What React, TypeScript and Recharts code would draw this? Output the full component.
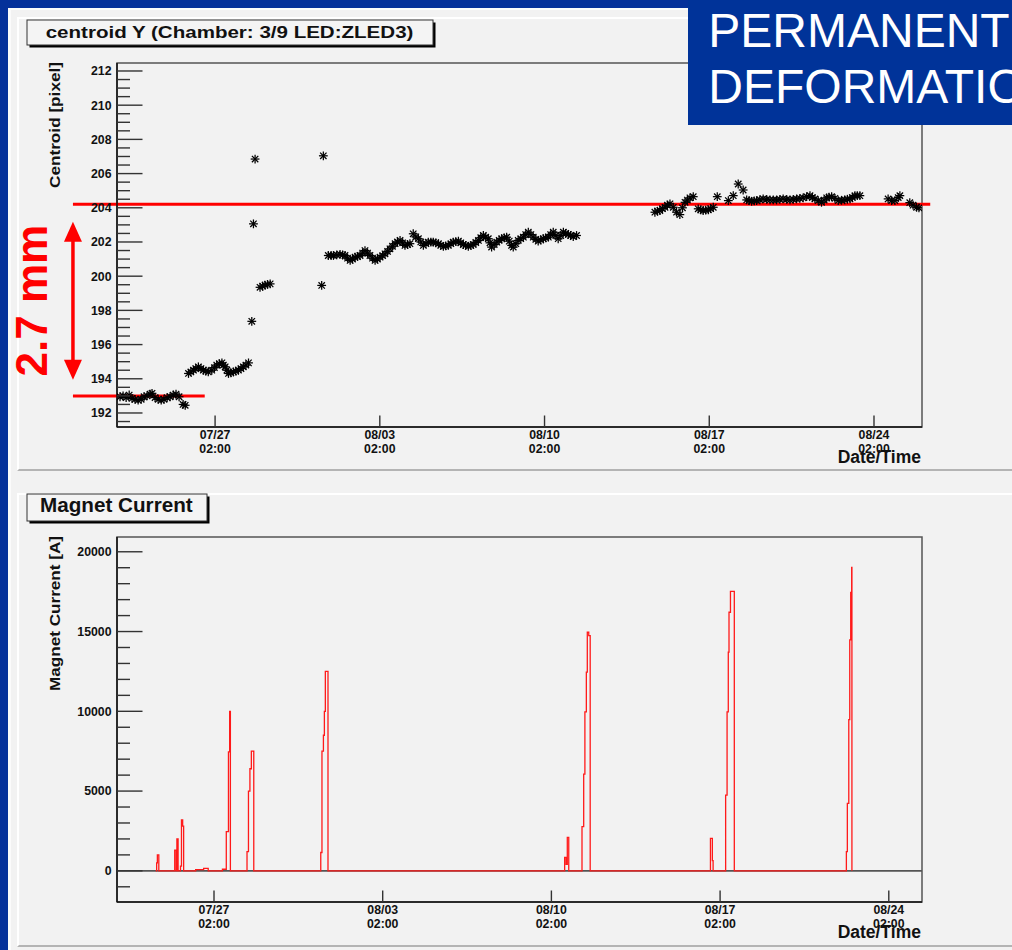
import React from 'react';
import {
  ScatterChart,
  Scatter,
  LineChart,
  Line,
  XAxis,
  YAxis,
  ReferenceLine,
  ReferenceArea,
} from 'recharts';

const FONT = '"Liberation Sans", Arial, Helvetica, sans-serif';
const INK = '#111';
const RED = '#ff0000';

// time axis: days since 07/27 02:00
const dateTicks = [0, 7, 14, 21, 28];
const dateTickDay = ['07/27', '08/03', '08/10', '08/17', '08/24'];
const dateTickHour = ['02:00', '02:00', '02:00', '02:00', '02:00'];

const centroidTitle = 'centroid Y (Chamber: 3/9 LED:ZLED3)';
const centroidAxisTitle = 'Centroid [pixel]';
const currentTitle = 'Magnet Current';
const currentAxisTitle = 'Magnet Current [A]';
const timeAxisTitle = 'Date/Time';
const bannerLines = ['PERMANENT', 'DEFORMATION'];
const shiftLabel = '2.7 mm';

const centroidMajor = [192, 194, 196, 198, 200, 202, 204, 206, 208, 210, 212];
const currentMajor = [0, 5000, 10000, 15000, 20000];

// centroid Y measurements (days since 07/27 02:00, pixel)
const centroidT = [
  -4.04, -3.91, -3.78, -3.65, -3.53, -3.4, -3.27, -3.14, -3.02, -2.89, -2.76, -2.68, -2.55, -2.42, -2.29, -2.17,
  -2.04, -1.91, -1.78, -1.66, -1.53, -1.36, -1.27,
  -1.13, -1.03, -0.92, -0.82, -0.71, -0.6, -0.5, -0.39, -0.29, -0.14, -0.03, 0.07, 0.18, 0.29, 0.35, 0.43, 0.5,
  0.57, 0.67, 0.78, 0.88, 0.99, 1.1, 1.2, 1.31, 1.42,
  1.56, 1.63, 1.7, 1.91, 2.02, 2.12, 2.23, 2.34, 4.53, 4.6,
  4.81, 4.93, 5.03, 5.17, 5.31, 5.42, 5.52, 5.63, 5.74, 5.84,
  5.95, 6.05, 6.16, 6.27, 6.37, 6.48, 6.58, 6.69, 6.8, 6.9,
  7.01, 7.12, 7.22, 7.33, 7.43, 7.54, 7.65, 7.75, 7.86, 7.97,
  8.07, 8.18, 8.28, 8.42, 8.53, 8.64, 8.74, 8.85, 8.96, 9.06,
  9.17, 9.27, 9.38, 9.49, 9.59, 9.7, 9.8, 9.91, 10.02, 10.12,
  10.23, 10.34, 10.44, 10.55, 10.65, 10.76, 10.87, 10.97, 11.08, 11.19,
  11.29, 11.4, 11.5, 11.61, 11.68, 11.75, 11.86, 11.97, 12.07, 12.18,
  12.29, 12.39, 12.5, 12.6, 12.67, 12.78, 12.88, 12.99, 13.1, 13.2,
  13.31, 13.42, 13.52, 13.63, 13.73, 13.84, 13.95, 14.05, 14.16, 14.26,
  14.37, 14.48, 14.58, 14.69, 14.8, 14.9, 15.01, 15.11, 15.22, 15.36,
  18.69, 18.8, 18.9, 19.01, 19.12, 19.22, 19.33, 19.47, 19.61, 19.75,
  19.86, 19.97, 20.07, 20.18, 20.32, 20.53, 20.64, 20.74, 20.85, 20.96,
  21.06, 21.17, 21.34, 21.81, 22.02, 22.23, 22.44, 22.59, 22.69, 22.8,
  22.91, 23.01, 23.15, 23.29, 23.44, 23.58, 23.72, 23.86, 24.0, 24.14,
  24.29, 24.43, 24.57, 24.71, 24.85, 24.99, 25.14, 25.28, 25.38, 25.49,
  25.63, 25.77, 25.88, 25.99, 26.09, 26.2, 26.34, 26.48, 26.62, 26.76,
  26.87, 26.98, 27.08, 27.19, 27.29, 27.4, 28.6, 28.75, 28.89, 29.03,
  29.1, 29.52, 29.66, 29.81, 29.91,
];
const centroidY = [
  192.95, 193.0, 192.9, 193.05, 192.85, 192.8, 192.75, 192.8, 192.95, 193.0, 193.1, 193.15, 192.9, 192.8, 192.75,
  192.8, 192.9, 192.95, 193.05, 193.1, 192.95, 192.5, 192.45,
  194.31, 194.4, 194.5, 194.6, 194.7, 194.6, 194.5, 194.45, 194.4, 194.5, 194.65, 194.8, 194.88, 194.93, 194.8,
  194.7, 194.5, 194.31, 194.35, 194.4, 194.45, 194.5, 194.6, 194.7, 194.8, 194.93,
  197.36, 203.06, 206.85, 199.35, 199.42, 199.48, 199.52, 199.55, 199.46, 207.04,
  201.21, 201.21, 201.21, 201.25, 201.27, 201.24, 201.21, 201.05, 200.92, 201.0,
  201.11, 201.15, 201.21, 201.35, 201.5, 201.35, 201.21, 201.05, 200.92, 201.0,
  201.11, 201.2, 201.31, 201.45, 201.6, 201.75, 201.9, 202.0, 202.09, 201.95,
  201.8, 201.85, 201.9, 202.48, 202.3, 202.19, 202.0, 201.8, 201.9, 201.99,
  201.99, 201.99, 201.95, 201.9, 201.8, 201.74, 201.77, 201.8, 201.9, 201.99,
  202.02, 202.05, 201.95, 201.85, 201.8, 201.74, 201.8, 201.85, 201.97, 202.09,
  202.25, 202.38, 202.28, 202.19, 201.95, 201.7, 201.85, 201.99, 202.1, 202.19,
  202.24, 202.28, 202.05, 201.8, 201.7, 201.9, 202.09, 202.19, 202.28, 202.43,
  202.57, 202.43, 202.28, 202.15, 202.05, 202.12, 202.19, 202.24, 202.28, 202.43,
  202.57, 202.38, 202.19, 202.38, 202.57, 202.5, 202.44, 202.38, 202.32, 202.38,
  203.74, 203.8, 203.84, 203.95, 204.03, 204.15, 204.23, 204.03, 203.74, 203.6,
  204.0, 204.32, 204.45, 204.58, 204.65, 203.94, 203.88, 203.84, 203.86, 203.88,
  203.95, 204.03, 204.65, 204.42, 204.71, 205.39, 205.04, 204.46, 204.42, 204.38,
  204.4, 204.42, 204.47, 204.52, 204.49, 204.46, 204.46, 204.46, 204.49, 204.52,
  204.49, 204.46, 204.49, 204.52, 204.55, 204.58, 204.65, 204.71, 204.6, 204.52,
  204.42, 204.32, 204.45, 204.58, 204.62, 204.65, 204.55, 204.42, 204.44, 204.46,
  204.5, 204.52, 204.6, 204.71, 204.71, 204.71, 204.52, 204.42, 204.42, 204.6,
  204.71, 204.3, 204.15, 204.03, 204.0,
];

// annotation levels (pixel) and extents (days)
const levelBefore = 193.0;
const levelAfter = 204.2;
const annotStartT = -6.04;
const levelBeforeEndT = -0.44;
const levelAfterEndT = 30.39;
const arrowTop = 203.19;
const arrowBottom = 193.95;

// magnet current (days since 07/27 02:00, A), step data
const magnetT = [
  -2.42, -2.38, -2.35, -2.29, -1.63, -1.57, -1.54, -1.49, -1.39, -1.35, -1.3, -1.26, -0.76, -0.43, -0.24,
  0.35, 0.51, 0.6, 0.65, 0.68, 1.37, 1.43, 1.49, 1.55, 1.65,
  4.43, 4.48, 4.54, 4.58, 4.62, 4.73,
  14.55, 14.61, 14.66, 14.72, 15.27, 15.34, 15.39, 15.45, 15.49, 15.55, 15.61,
  20.6, 20.68, 20.71, 21.23, 21.29, 21.34, 21.37, 21.43, 21.59,
  26.24, 26.28, 26.34, 26.38, 26.42, 26.46, 26.47,
];
const magnetA = [
  0, 500, 1000, 0, 1300, 0, 2000, 0, 300, 3200, 2800, 0, 80, 150, 0,
  100, 2460, 7460, 10000, 0, 1200, 5000, 6400, 7500, 0,
  1150, 7500, 8500, 10000, 12500, 0,
  850, 400, 2100, 0, 2770, 6060, 9960, 12460, 14960, 14750, 0,
  2040, 640, 0, 4750, 9960, 13710, 16210, 17520, 0,
  1210, 4230, 9480, 14480, 17460, 19020, 0,
];

const centroidXDomain: [number, number] = [-4.168, 30.04];
const centroidYDomain: [number, number] = [191.18, 212.467];
const currentXDomain: [number, number] = [-4.025, 29.378];
const currentYDomain: [number, number] = [-1953, 20926];

const centroidData = centroidT.map((t, i) => ({ t, v: centroidY[i] }));
const magnetData = magnetT.map((t, i) => ({ t, a: magnetA[i] }));
const zeroBaseline = [
  { t: currentXDomain[0], a: 0 },
  { t: currentXDomain[1], a: 0 },
];

const stepTicks = (lo: number, hi: number, step: number) => {
  const out: number[] = [];
  for (let v = lo; v <= hi + 1e-9; v += step) out.push(Math.round(v * 1000) / 1000);
  return out;
};
const centroidTicks = stepTicks(191.5, 212, 0.5);
const currentTicks = stepTicks(-1000, 20000, 1000);

const makeYTick = (majors: number[]) => (props: any) => {
  const { x, y, payload } = props;
  const v = payload.value;
  const major = majors.includes(v);
  return (
    <g>
      <line x1={x} x2={x + (major ? 25.5 : 13)} y1={y} y2={y} stroke="#333" strokeWidth={1.4} />
      {major && (
        <text x={x - 5.5} y={y + 4.4} textAnchor="end" fontFamily={FONT} fontWeight="bold" fontSize={12.3} fill={INK}>
          {v}
        </text>
      )}
    </g>
  );
};

const XTick = (props: any) => {
  const { x, y, payload } = props;
  const i = dateTicks.indexOf(payload.value);
  return (
    <g>
      <line x1={x} x2={x} y1={y} y2={y - 11.5} stroke="#333" strokeWidth={1.4} />
      <text x={x} y={y + 12} textAnchor="middle" fontFamily={FONT} fontWeight="bold" fontSize={12.3} fill={INK}>
        {dateTickDay[i]}
      </text>
      <text x={x} y={y + 25.5} textAnchor="middle" fontFamily={FONT} fontWeight="bold" fontSize={12.3} fill={INK}>
        {dateTickHour[i]}
      </text>
    </g>
  );
};

const timeTitle = (dy: number) => (props: any) => {
  const vb = props.viewBox || props;
  return (
    <text
      x={vb.x + vb.width - 1}
      y={vb.y + dy}
      textAnchor="end"
      fontFamily={FONT}
      fontWeight="bold"
      fontSize={17.5}
      fill={INK}
    >
      {timeAxisTitle}
    </text>
  );
};

const yTitle = (title: string, len: number) => (props: any) => {
  const vb = props.viewBox || props;
  const x = vb.x + 2.5;
  const y = vb.y - 1;
  return (
    <text
      transform={`rotate(-90 ${x} ${y})`}
      x={x}
      y={y}
      textAnchor="end"
      fontFamily={FONT}
      fontWeight="bold"
      fontSize={15.5}
      fill={INK}
      textLength={len}
      lengthAdjust="spacingAndGlyphs"
    >
      {title}
    </text>
  );
};

const Star = (props: any) => {
  const { cx, cy } = props;
  if (cx == null || cy == null) return null;
  const r = 4.4;
  const d = 3.2;
  return (
    <g stroke="#000" strokeWidth={1.25}>
      <line x1={cx - r} x2={cx + r} y1={cy} y2={cy} />
      <line x1={cx} x2={cx} y1={cy - r} y2={cy + r} />
      <line x1={cx - d} x2={cx + d} y1={cy - d} y2={cy + d} />
      <line x1={cx - d} x2={cx + d} y1={cy + d} y2={cy - d} />
    </g>
  );
};

const ArrowShape = (props: any) => {
  const { x1, y1, y2 } = props;
  const top = Math.min(y1, y2);
  const bot = Math.max(y1, y2);
  const hw = 9;
  const hl = 20;
  const mid = (top + bot) / 2;
  const tx = x1 - 26;
  return (
    <g>
      <line x1={x1} x2={x1} y1={top + hl - 1} y2={bot - hl + 1} stroke={RED} strokeWidth={3.5} />
      <polygon points={`${x1},${top} ${x1 - hw},${top + hl} ${x1 + hw},${top + hl}`} fill={RED} />
      <polygon points={`${x1},${bot} ${x1 - hw},${bot - hl} ${x1 + hw},${bot - hl}`} fill={RED} />
      <text
        x={tx}
        y={mid}
        transform={`rotate(-90 ${tx} ${mid})`}
        textAnchor="middle"
        fontFamily={FONT}
        fontWeight="bold"
        fontSize={44}
        fill={RED}
      >
        {shiftLabel}
      </text>
    </g>
  );
};

const TitleBox = ({ x, y, w, h, text, tx, ty, size, len }: any) => (
  <g>
    <rect x={x + 2.5} y={y + 2.5} width={w} height={h} fill="#000" />
    <rect x={x} y={y} width={w} height={h} fill="#f4f4f4" stroke="#333" strokeWidth={1} />
    <text
      x={tx}
      y={ty}
      fontFamily={FONT}
      fontWeight="bold"
      fontSize={size}
      fill={INK}
      textLength={len}
      lengthAdjust="spacingAndGlyphs"
    >
      {text}
    </text>
  </g>
);

export default function App() {
  return (
    <div
      style={{
        position: 'absolute',
        left: 0,
        top: 0,
        width: 1012,
        height: 950,
        overflow: 'hidden',
        background: '#05319a',
        fontFamily: FONT,
      }}
    >
      {/* canvas */}
      <div
        style={{
          position: 'absolute',
          left: 8,
          top: 8,
          width: 1004,
          height: 942,
          background: '#f2f2f2',
          borderLeft: '3px solid #fbfbfb',
          borderTop: '2px solid #fbfbfb',
          boxSizing: 'border-box',
        }}
      />
      {/* pads */}
      <div
        style={{
          position: 'absolute',
          left: 17,
          top: 17,
          width: 1000,
          height: 454,
          borderLeft: '2px solid #fff',
          borderTop: '2px solid #fff',
          borderBottom: '2px solid #b4b4b4',
          boxSizing: 'border-box',
        }}
      />
      <div
        style={{
          position: 'absolute',
          left: 17,
          top: 493,
          width: 1000,
          height: 454,
          borderLeft: '2px solid #fff',
          borderTop: '2px solid #fff',
          borderBottom: '2px solid #b4b4b4',
          boxSizing: 'border-box',
        }}
      />

      {/* top chart */}
      <div style={{ position: 'absolute', left: 0, top: 0 }}>
        <ScatterChart width={1012} height={470} margin={{ top: 63, right: 90, bottom: 0, left: 57 }}>
          <XAxis
            type="number"
            dataKey="t"
            domain={centroidXDomain}
            allowDataOverflow
            ticks={dateTicks}
            interval={0}
            tickSize={0}
            tickMargin={0}
            tick={XTick}
            height={43}
            axisLine={{ stroke: INK, strokeWidth: 1.5 }}
            label={timeTitle(36)}
          />
          <YAxis
            type="number"
            dataKey="v"
            domain={centroidYDomain}
            allowDataOverflow
            ticks={centroidTicks}
            interval={0}
            tickSize={0}
            tickMargin={0}
            tick={makeYTick(centroidMajor)}
            width={60}
            axisLine={{ stroke: INK, strokeWidth: 1.5 }}
            label={yTitle(centroidAxisTitle, 126)}
          />
          <ReferenceArea
            x1={centroidXDomain[0]}
            x2={centroidXDomain[1]}
            y1={centroidYDomain[0]}
            y2={centroidYDomain[1]}
            fill="none"
            fillOpacity={0}
            stroke="#555"
            strokeWidth={1.5}
            ifOverflow="visible"
          />
          <Scatter data={centroidData} shape={Star} isAnimationActive={false} />
          <ReferenceLine
            segment={[
              { x: annotStartT, y: levelAfter },
              { x: levelAfterEndT, y: levelAfter },
            ]}
            stroke={RED}
            strokeWidth={3}
            ifOverflow="visible"
          />
          <ReferenceLine
            segment={[
              { x: annotStartT, y: levelBefore },
              { x: levelBeforeEndT, y: levelBefore },
            ]}
            stroke={RED}
            strokeWidth={3}
            ifOverflow="visible"
          />
          <ReferenceLine
            segment={[
              { x: annotStartT, y: arrowTop },
              { x: annotStartT, y: arrowBottom },
            ]}
            stroke={RED}
            ifOverflow="visible"
            shape={ArrowShape}
          />
        </ScatterChart>
      </div>

      {/* bottom chart */}
      <div style={{ position: 'absolute', left: 0, top: 480 }}>
        <LineChart width={1012} height={470} margin={{ top: 57, right: 90, bottom: 0, left: 57 }}>
          <XAxis
            type="number"
            dataKey="t"
            domain={currentXDomain}
            allowDataOverflow
            ticks={dateTicks}
            interval={0}
            tickSize={0}
            tickMargin={0}
            tick={XTick}
            height={48}
            axisLine={{ stroke: INK, strokeWidth: 1.5 }}
            label={timeTitle(35.5)}
          />
          <YAxis
            type="number"
            domain={currentYDomain}
            allowDataOverflow
            ticks={currentTicks}
            interval={0}
            tickSize={0}
            tickMargin={0}
            tick={makeYTick(currentMajor)}
            width={60}
            axisLine={{ stroke: INK, strokeWidth: 1.5 }}
            label={yTitle(currentAxisTitle, 155)}
          />
          <ReferenceArea
            x1={currentXDomain[0]}
            x2={currentXDomain[1]}
            y1={currentYDomain[0]}
            y2={currentYDomain[1]}
            fill="none"
            fillOpacity={0}
            stroke="#555"
            strokeWidth={1.5}
            ifOverflow="visible"
          />
          <Line
            data={zeroBaseline}
            type="linear"
            dataKey="a"
            stroke="#555"
            strokeWidth={1.6}
            dot={false}
            activeDot={false}
            isAnimationActive={false}
          />
          <Line
            data={magnetData}
            type="stepAfter"
            dataKey="a"
            stroke="#ff1a1a"
            strokeWidth={1.3}
            dot={false}
            activeDot={false}
            isAnimationActive={false}
          />
        </LineChart>
      </div>

      {/* title boxes and banner */}
      <svg width={1012} height={950} style={{ position: 'absolute', left: 0, top: 0, pointerEvents: 'none' }}>
        <TitleBox x={27} y={20} w={406} h={25} text={centroidTitle} tx={45.7} ty={37.5} size={17} len={367.7} />
        <TitleBox x={27} y={494} w={180} h={27} text={currentTitle} tx={40} ty={512.3} size={19.5} len={152.7} />
        <rect x={688} y={0} width={324} height={125} fill="#003399" />
        <text x={708.3} y={47} fontFamily={FONT} fontSize={48} fill="#fff">
          {bannerLines[0]}
        </text>
        <text x={708.3} y={103.3} fontFamily={FONT} fontSize={48} fill="#fff">
          {bannerLines[1]}
        </text>
      </svg>
    </div>
  );
}
